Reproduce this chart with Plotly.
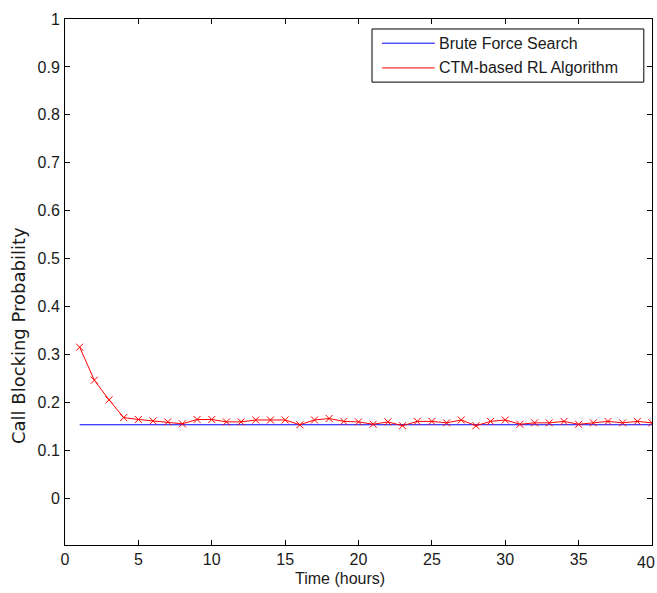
import plotly.graph_objects as go

# Time axis (hours) and call blocking probabilities
hours = list(range(1, 41))
brute_force = [0.153] * 40
ctm_rl = [0.315, 0.246, 0.205, 0.168, 0.164, 0.161, 0.159, 0.155, 0.164, 0.164,
          0.159, 0.159, 0.163, 0.163, 0.163, 0.153, 0.163, 0.166, 0.160, 0.159,
          0.154, 0.159, 0.151, 0.160, 0.160, 0.157, 0.163, 0.151, 0.160, 0.163,
          0.154, 0.157, 0.157, 0.160, 0.154, 0.157, 0.160, 0.157, 0.160, 0.157]

x_ticks = [0, 5, 10, 15, 20, 25, 30, 35, 40]
x_tick_text = ["0", "5", "10", "15", "20", "25", "30", "35", ""]
x_last_label = "40"
y_ticks = [0, 0.1, 0.2, 0.3, 0.4, 0.5, 0.6, 0.7, 0.8, 0.9, 1]
y_tick_text = ["0", "0.1", "0.2", "0.3", "0.4", "0.5", "0.6", "0.7", "0.8", "0.9", "1"]

series_names = ["Brute Force Search", "CTM-based RL Algorithm"]
BLUE = "#0000ff"
RED = "#ff0000"
TEXT = "#1a1a1a"
FONT = "Liberation Sans, Arial, Helvetica, sans-serif"

fig = go.Figure()
fig.add_trace(go.Scatter(x=hours, y=brute_force, mode="lines",
                         line=dict(color=BLUE, width=1), name=series_names[0],
                         showlegend=False))
fig.add_trace(go.Scatter(x=hours, y=ctm_rl, mode="lines+markers",
                         line=dict(color=RED, width=1),
                         marker=dict(symbol="x-thin", size=7,
                                     line=dict(width=1, color=RED)),
                         name=series_names[1], showlegend=False))

axis_common = dict(showgrid=False, zeroline=False, showline=True, mirror="ticks",
                   linecolor="#000000", linewidth=1, ticks="inside", ticklen=5,
                   tickcolor="#000000", automargin=False,
                   tickfont=dict(family=FONT, size=16, color=TEXT))

fig.update_xaxes(range=[0, 40], tickvals=x_ticks, ticktext=x_tick_text, **axis_common)
fig.update_yaxes(range=[-0.098, 1], tickvals=y_ticks, ticktext=y_tick_text,
                 ticklabelstandoff=1, **axis_common)

# Legend box drawn in paper coordinates
shapes = [
    dict(type="rect", xref="paper", yref="paper", x0=0.523, x1=0.986, y0=0.880, y1=0.981,
         line=dict(color="#000000", width=1), fillcolor="white", layer="above"),
    dict(type="line", xref="paper", yref="paper", x0=0.540, x1=0.630, y0=0.954, y1=0.954,
         line=dict(color=BLUE, width=1), layer="above"),
    dict(type="line", xref="paper", yref="paper", x0=0.540, x1=0.630, y0=0.907, y1=0.907,
         line=dict(color=RED, width=1), layer="above"),
]
annotations = [
    dict(text=series_names[0], xref="paper", yref="paper", x=0.634, y=0.954,
         xanchor="left", yanchor="middle", showarrow=False,
         font=dict(family=FONT, size=16, color=TEXT)),
    dict(text=series_names[1], xref="paper", yref="paper", x=0.634, y=0.907,
         xanchor="left", yanchor="middle", showarrow=False,
         font=dict(family=FONT, size=16, color=TEXT)),
    # last x tick label kept inside the page edge
    dict(text=x_last_label, xref="paper", yref="paper", x=(657 - 65) / 587, y=-0.0325,
         xanchor="right", yanchor="middle", showarrow=False,
         font=dict(family=FONT, size=16, color=TEXT)),
    dict(text="Time (hours)", xref="paper", yref="paper", x=(340 - 65) / 587, y=-0.063,
         xanchor="center", yanchor="middle", showarrow=False,
         font=dict(family=FONT, size=16, color=TEXT)),
    dict(text="Call Blocking Probability", xref="paper", yref="paper",
         x=-0.080, y=(545 - 336) / 526, textangle=-90,
         xanchor="center", yanchor="middle", showarrow=False,
         font=dict(family="DejaVu Sans, sans-serif", size=18, color=TEXT)),
]

# Legend marker glyph
fig.add_trace(go.Scatter(x=[0.584], y=[0.907], xaxis="x2", yaxis="y2", mode="markers",
                         marker=dict(symbol="x-thin", size=7, line=dict(width=1, color=RED)),
                         showlegend=False, hoverinfo="skip"))

fig.update_layout(
    width=657, height=593,
    margin=dict(l=65, r=5, t=19, b=48),
    plot_bgcolor="white", paper_bgcolor="white",
    shapes=shapes, annotations=annotations,
    xaxis2=dict(domain=[0, 1], range=[0, 1], overlaying="x", visible=False, anchor="y2"),
    yaxis2=dict(domain=[0, 1], range=[0, 1], overlaying="y", visible=False, anchor="x2"),
    showlegend=False,
)

fig.write_html("out.html")
